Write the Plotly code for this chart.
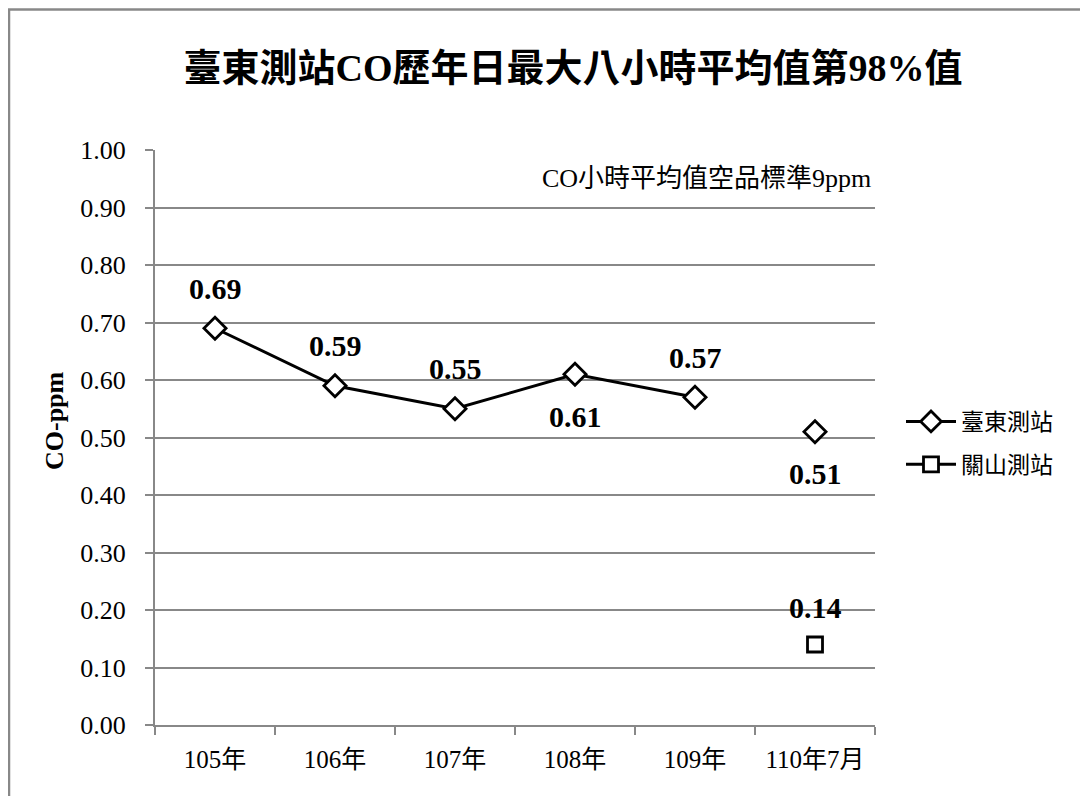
import plotly.graph_objects as go

categories = ["105年", "106年", "107年", "108年", "109年", "110年7月"]
taitung = [0.69, 0.59, 0.55, 0.61, 0.57, 0.51]
guanshan = [None, None, None, None, None, 0.14]
taitung_label_pos = ["above", "above", "above", "below", "above", "below"]
guanshan_label_pos = [None, None, None, None, None, "above"]
y_ticks = [0.0, 0.1, 0.2, 0.3, 0.4, 0.5, 0.6, 0.7, 0.8, 0.9, 1.0]

SERIF = "Liberation Serif, Times New Roman, Noto Sans CJK TC"
CJK = "Liberation Serif, Noto Sans CJK TC"
GREY = "#888888"

OFF = 8  # page body margin
W, H = 1080, 788
L, T = 155 - OFF, 150 - OFF
PR, PB = 875 - OFF, 725 - OFF
R, B = W - PR, H - PB
PW, PH = PR - L, PB - T


def px_x(p):  # page pixel -> paper x
    return (p - OFF - L) / PW


def px_y(p):  # page pixel -> paper y
    return (PB - (p - OFF)) / PH


fig = go.Figure()

diamond = dict(symbol="diamond", size=17, color="white", line=dict(color="black", width=2.8))
square = dict(symbol="square", size=15, color="white", line=dict(color="black", width=2.8))

fig.add_trace(go.Scatter(
    x=categories[:5], y=taitung[:5], mode="lines+markers", name="臺東測站",
    line=dict(color="black", width=3), marker=diamond, legendgroup="a",
))
fig.add_trace(go.Scatter(
    x=categories[5:], y=taitung[5:], mode="markers", name="臺東測站",
    marker=diamond, showlegend=False, legendgroup="a",
))
fig.add_trace(go.Scatter(
    x=categories, y=guanshan, mode="lines+markers", name="關山測站",
    line=dict(color="black", width=3), marker=square, legendgroup="b",
))

label_font = dict(family=SERIF, size=30, color="black", weight="bold")
annotations = []
for c, v, pos in zip(categories, taitung, taitung_label_pos):
    if v is None:
        continue
    annotations.append(dict(x=c, y=v, text=f"{v:.2f}", showarrow=False,
                            yshift=40 if pos == "above" else -42, font=label_font))
for c, v, pos in zip(categories, guanshan, guanshan_label_pos):
    if v is None:
        continue
    annotations.append(dict(x=c, y=v, text=f"{v:.2f}", showarrow=False,
                            yshift=37 if pos == "above" else -42, font=label_font))

annotations.append(dict(
    xref="paper", yref="paper", x=px_x(873), y=px_y(179), xanchor="right", yanchor="middle",
    text="CO小時平均值空品標準9ppm", showarrow=False,
    font=dict(family=CJK, size=26, color="black"),
))
# y-axis title
annotations.append(dict(
    xref="paper", yref="paper", x=px_x(54), y=px_y(421), xanchor="center", yanchor="middle",
    text="CO-ppm", textangle=-90, showarrow=False,
    font=dict(family=SERIF, size=26, color="black", weight="bold"),
))

fig.update_layout(
    width=W, height=H,
    margin=dict(l=L, r=R, t=T, b=B, autoexpand=False),
    paper_bgcolor="white", plot_bgcolor="white",
    title=dict(text="臺東測站CO歷年日最大八小時平均值第98%值",
               x=(573 - OFF) / W, xref="container", xanchor="center",
               y=1 - (68 - OFF) / H, yref="container", yanchor="middle",
               font=dict(family=SERIF, size=38, color="black", weight="bold")),
    showlegend=True,
    legend=dict(x=px_x(901), y=px_y(443), xanchor="left", yanchor="middle",
                xref="paper", yref="paper", itemwidth=50,
                font=dict(family=CJK, size=23, color="black"),
                tracegroupgap=10, traceorder="grouped", bgcolor="rgba(0,0,0,0)"),
    annotations=annotations,
    shapes=[
        dict(type="line", xref="paper", yref="paper", x0=px_x(OFF), x1=px_x(1100),
             y0=px_y(OFF + 1.5), y1=px_y(OFF + 1.5), line=dict(color=GREY, width=2.5)),
        dict(type="line", xref="paper", yref="paper", x0=px_x(OFF + 1), x1=px_x(OFF + 1),
             y0=px_y(OFF + 1.5), y1=px_y(820), line=dict(color=GREY, width=2.5)),
    ],
)

fig.update_xaxes(
    type="category", categoryorder="array", categoryarray=categories,
    range=[-0.5, 5.5],
    showline=True, linecolor=GREY, linewidth=2,
    ticks="outside", tickson="boundaries", ticklen=8, tickcolor=GREY, tickwidth=2,
    ticklabelstandoff=11,
    tickfont=dict(family=CJK, size=25, color="black"),
    showgrid=False, zeroline=False,
)
fig.update_yaxes(
    range=[0, 1.0], tickvals=y_ticks, tickformat=".2f",
    showline=True, linecolor=GREY, linewidth=2,
    ticks="outside", ticklen=8, tickcolor=GREY, tickwidth=2,
    ticklabelstandoff=14,
    tickfont=dict(family=SERIF, size=26, color="black"),
    showgrid=True, gridcolor=GREY, gridwidth=1.5, zeroline=False,
)

fig.write_html("out.html")
